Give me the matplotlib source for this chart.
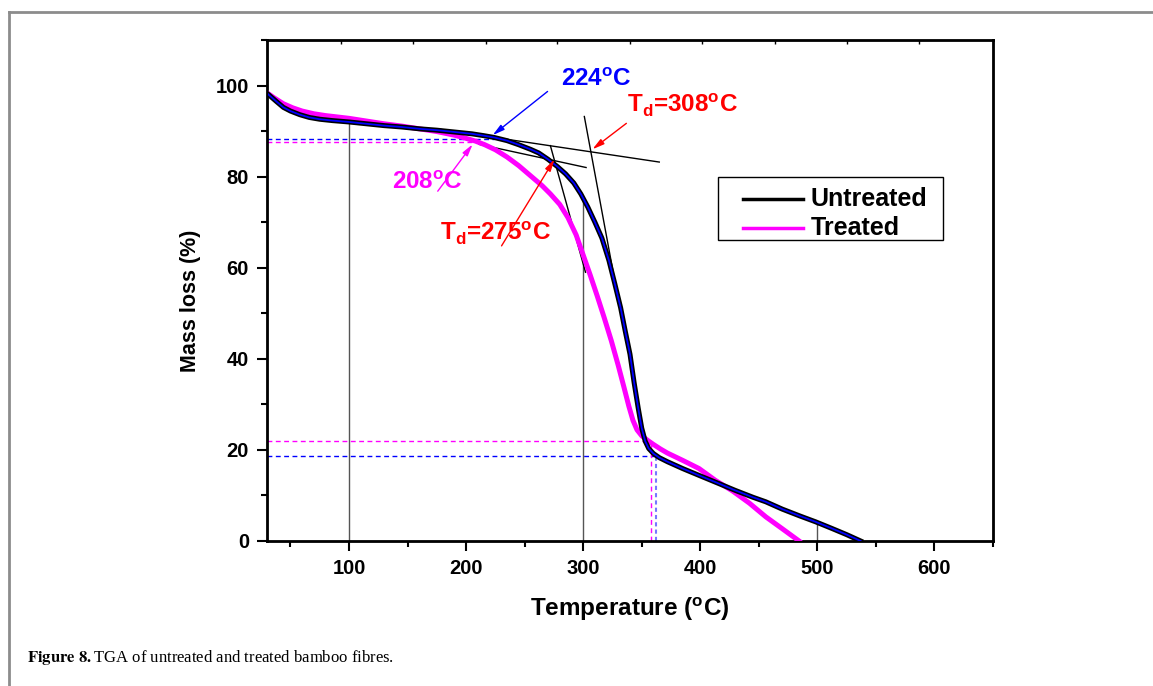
"""
TGA de fibras de bambu: sin tratar vs tratadas (Figure 8).
"""
import matplotlib
matplotlib.use("Agg")
import matplotlib.pyplot as plt
from matplotlib.lines import Line2D
from matplotlib.patches import Rectangle
from matplotlib.ticker import MultipleLocator, FixedLocator, NullFormatter

plt.rcParams["font.family"] = ["Liberation Sans", "DejaVu Sans"]
plt.rcParams["font.weight"] = "bold"
plt.rcParams["axes.labelweight"] = "bold"
plt.rcParams["mathtext.fontset"] = "custom"
plt.rcParams["mathtext.rm"] = "Liberation Sans:bold"
plt.rcParams["mathtext.bf"] = "Liberation Sans:bold"

AZUL = "#0000ff"
MAGENTA = "#ff00ff"
ROJO = "#ff0000"

# curvas TGA
t_untreated = [30, 34, 38, 44, 50, 58, 66, 75, 86, 100, 115, 130, 145, 160, 175, 190,
               205, 215, 224, 235, 245, 255, 262, 270, 278, 285, 292, 298, 304, 310,
               316, 322, 327, 332, 336, 340, 343.5, 347, 350, 353, 356, 360, 365,
               372, 385, 399, 415, 430, 445, 456, 470, 485, 498.6, 512, 525, 537]
m_untreated = [98.3, 97.4, 96.5, 95.2, 94.4, 93.6, 93.0, 92.6, 92.3, 92.0, 91.6, 91.2,
               90.9, 90.5, 90.2, 89.8, 89.4, 89.0, 88.6, 87.9, 87.0, 86.0, 85.2, 83.8,
               82.2, 80.6, 78.6, 76.2, 73.3, 70.0, 66.5, 61.6, 56.5, 51.2, 46.0, 41.0,
               34.8, 29.2, 24.8, 21.9, 20.3, 19.2, 18.3, 17.4, 15.9, 14.4, 12.7, 11.1,
               9.6, 8.6, 7.0, 5.5, 4.2, 2.8, 1.4, 0.0]

t_treated = [30, 36, 44, 52, 60, 70, 80, 90, 100, 115, 130, 145, 160, 175, 190, 200,
             208, 216, 225, 235, 245, 255, 265, 272, 280, 287, 294, 300, 306, 312,
             318, 324, 330, 335, 339, 342.5, 346, 350, 355, 360, 366, 372, 385, 399,
             413, 427.5, 442, 456, 470, 484.4]
m_treated = [98.4, 97.3, 96.0, 95.1, 94.4, 93.8, 93.4, 93.1, 92.8, 92.2, 91.6, 91.1,
             90.5, 89.9, 89.1, 88.4, 87.8, 87.0, 85.9, 84.3, 82.4, 80.2, 78.0, 76.2,
             73.9, 71.0, 67.2, 62.8, 58.4, 53.8, 49.0, 44.0, 38.5, 33.6, 29.6, 26.5,
             24.4, 23.1, 22.1, 21.2, 20.2, 19.3, 17.7, 15.9, 13.3, 11.0, 8.3, 5.3,
             2.7, 0.0]

series_labels = ["Untreated", "Treated"]

# lineas de caida en 100, 300 y 500 C
drop_t = [100, 300, 500]
drop_m = [92.0, 75.3, 4.4]

# tangentes (onset y pendiente maxima)
tan_onset_u = ([175, 365], [90.5, 83.2])
tan_steep_u = ([301, 326], [93.2, 58.5])
tan_onset_t = ([211, 302.5], [87.1, 82.0])
tan_steep_t = ([272, 302], [86.8, 59.0])

# referencias punteadas
onset_u, onset_t = 224, 208
onset_m_u, onset_m_t = 88.3, 87.7
end_t_u, end_t_t = 362, 358
end_m_u, end_m_t = 18.6, 22.0

fig = plt.figure(figsize=(11.53, 6.86), dpi=100)
ax = fig.add_axes([0.2316, 0.2114, 0.6296, 0.7303])

ax.vlines(drop_t, 0, drop_m, color="#555555", lw=1, zorder=1)

dash = dict(lw=1, dashes=(3.5, 2.5), zorder=2)
ax.plot([30, onset_u], [onset_m_u, onset_m_u], color=AZUL, **dash)
ax.plot([30, onset_t], [onset_m_t, onset_m_t], color=MAGENTA, **dash)
ax.plot([30, end_t_u], [end_m_u, end_m_u], color=AZUL, **dash)
ax.plot([30, end_t_t], [end_m_t, end_m_t], color=MAGENTA, **dash)
ax.plot([end_t_t, end_t_t], [0, end_m_t], color=MAGENTA, **dash)
ax.plot([end_t_u, end_t_u], [0, end_m_u], color="#7777ff", lw=1.5,
        dashes=(2, 1.5), zorder=2)

for xs, ys in (tan_onset_u, tan_steep_u, tan_onset_t, tan_steep_t):
    ax.plot(xs, ys, color="black", lw=1, zorder=3)

ax.plot(t_treated, m_treated, color=MAGENTA, lw=3.6, zorder=4, solid_joinstyle="round")
ax.plot(t_untreated, m_untreated, color="black", lw=3.6, zorder=5, solid_joinstyle="round")
ax.plot(t_untreated, m_untreated, color=AZUL, lw=1.3, zorder=6, solid_joinstyle="round")

# anotaciones
arrow = dict(arrowstyle="-|>,head_length=0.7,head_width=0.18", lw=1, shrinkA=0, shrinkB=0)
ax.annotate("", xy=(222.7, 89.1), xytext=(269.6, 98.7),
            arrowprops=dict(color=AZUL, **arrow), zorder=7)
ax.annotate("", xy=(307.9, 86.0), xytext=(336.9, 91.7),
            arrowprops=dict(color=ROJO, **arrow), zorder=7)
ax.annotate("", xy=(205.6, 87.1), xytext=(175.8, 76.8),
            arrowprops=dict(color=MAGENTA, **arrow), zorder=7)
ax.annotate("", xy=(275.5, 83.8), xytext=(230.3, 64.8),
            arrowprops=dict(color=ROJO, **arrow), zorder=7)

fs_ann = 17.5
ax.text(310.8, 101.3, r"224$^\mathbf{o}$C", color=AZUL, fontsize=fs_ann,
        ha="center", va="center")
ax.text(337.8, 94.0, r"T$_\mathbf{d}$=308$^\mathbf{o}$C", color=ROJO, fontsize=fs_ann,
        ha="left", va="baseline")
ax.text(167.3, 77.2, r"208$^\mathbf{o}$C", color=MAGENTA, fontsize=fs_ann,
        ha="center", va="baseline")
ax.text(177.5, 65.8, r"T$_\mathbf{d}$=275$^\mathbf{o}$C", color=ROJO, fontsize=fs_ann,
        ha="left", va="baseline")

# ejes
ax.set_xlim(30, 650)
ax.set_ylim(0, 110)
ax.xaxis.set_major_locator(FixedLocator([100, 200, 300, 400, 500, 600]))
ax.xaxis.set_minor_locator(FixedLocator([50, 150, 250, 350, 450, 550, 650]))
ax.set_yticks([0, 20, 40, 60, 80, 100])
ax.yaxis.set_minor_locator(MultipleLocator(10))
ax.tick_params(which="major", direction="out", length=7, width=1.5, labelsize=14.5, pad=6)
ax.tick_params(which="minor", direction="out", length=4, width=1.5)
for s in ax.spines.values():
    s.set_linewidth(2)

top = ax.twiny()
top.set_xlim(ax.get_xlim())
top.xaxis.set_major_locator(FixedLocator([93, 154.5, 216.7, 278, 340, 401.7, 464, 525, 587]))
top.xaxis.set_major_formatter(NullFormatter())
top.tick_params(direction="in", length=3, width=1)

ax.set_xlabel(r"Temperature ($^\mathbf{o}$C)", fontsize=17.5, labelpad=12)
ax.set_ylabel("Mass loss (%)", fontsize=15.5)
ax.yaxis.set_label_coords(-0.091, 0.479)

# leyenda (caja estilo Origin)
ax.add_patch(Rectangle((0.6212, 0.6008), 0.3099, 0.1257, transform=ax.transAxes,
                       facecolor="white", edgecolor="black", lw=1, zorder=10))
for yy, col, lbl in ((0.6826, "black", series_labels[0]),
                     (0.6248, MAGENTA, series_labels[1])):
    ax.plot([0.6556, 0.7383], [yy, yy], color=col, lw=2.5, transform=ax.transAxes,
            zorder=11)
    ax.text(0.7493, yy, lbl, fontsize=18, ha="left", va="center",
            transform=ax.transAxes, zorder=11)

# marco de la figura y leyenda
fig.add_artist(Line2D([9 / 1153, 1], [1 - 12 / 686] * 2, color="#8c8c8c", lw=2))
fig.add_artist(Line2D([9 / 1153] * 2, [0, 1 - 12 / 686], color="#8c8c8c", lw=2))
fig.text(27 / 1153, 1 - 662 / 686,
         r"$\mathbf{Figure\ 8.}$TGA of untreated and treated bamboo fibres.",
         family="Liberation Serif", fontweight="normal", math_fontfamily="stix",
         fontsize=12, ha="left", va="baseline")

fig.savefig("out.png", dpi=100)
plt.close(fig)
